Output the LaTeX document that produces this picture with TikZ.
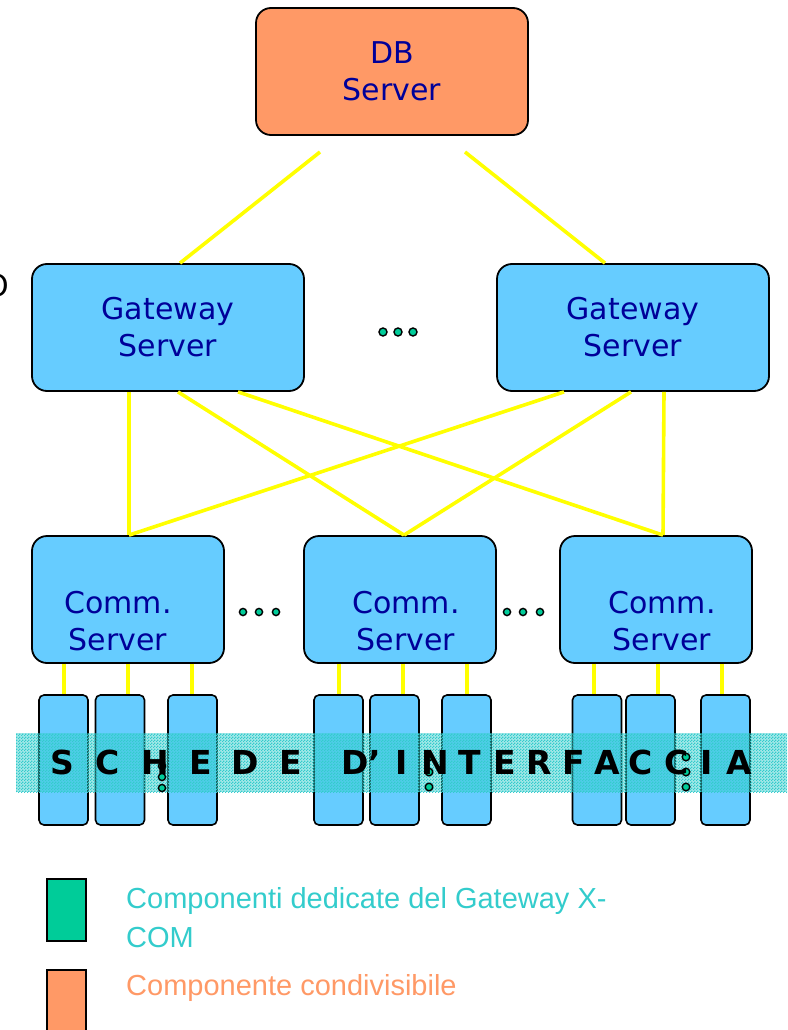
\documentclass[tikz,border=0pt]{standalone}
\usepackage{fontspec}
\setmainfont{DejaVu Sans}
\newfontfamily\legfont{Liberation Sans}
\usepackage{tikz}
\usetikzlibrary{shapes,arrows,patterns}
\usepackage{xcolor}

\definecolor{srvblue}{HTML}{66CCFF}
\definecolor{dborange}{HTML}{FF9966}
\definecolor{txtblue}{HTML}{000099}
\definecolor{dotgreen}{HTML}{00CC99}
\definecolor{bandteal}{HTML}{33CCCC}
\definecolor{wireyellow}{HTML}{FFFF00}

\pgfdeclarepatternformonly{checker}{\pgfqpoint{0pt}{0pt}}{\pgfqpoint{3pt}{3pt}}{\pgfqpoint{3pt}{3pt}}{%
	\pgfpathrectangle{\pgfqpoint{0pt}{0pt}}{\pgfqpoint{1.5pt}{1.5pt}}%
	\pgfpathrectangle{\pgfqpoint{1.5pt}{1.5pt}}{\pgfqpoint{1.5pt}{1.5pt}}%
	\pgfusepath{fill}}

\begin{document}
\begin{tikzpicture}[x = 1pt, y = -1pt,
	box/.style = {draw = black, line width = 1.8pt, rounded corners = 15pt, fill = srvblue, minimum width = 272, minimum height = 127},
	comm/.style = {box, minimum width = 192},
	card/.style = {draw = black, line width = 1.6pt, rounded corners = 5pt, fill = srvblue, minimum width = 49, minimum height = 130},
	txt/.style = {text = txtblue, align = center, font = \fontsize{30}{37}\selectfont},
	wire/.style = {line width = 3.6pt, color = wireyellow},
	dot/.style = {draw = black, line width = 1.4pt, fill = dotgreen},
	letter/.style = {font = \fontsize{33}{33}\selectfont\bfseries, text = black, inner sep = 0pt}]
	\useasboundingbox (0,0) rectangle (787,1030);

	% stray glyph cut by the left edge
	\node[font = \fontsize{30}{30}\selectfont, text = black] (cut) at (-3,286) {O};

	% servers
	\node[box, fill = dborange] (db) at (392,71.5) {};
	\node[txt] (dbtxt) at (db.center) {DB\\Server};
	\node[box] (gw1) at (168,327.5) {};
	\node[txt] (gw1txt) at (gw1.center) {Gateway\\Server};
	\node[box] (gw2) at (633,327.5) {};
	\node[txt] (gw2txt) at (gw2.center) {Gateway\\Server};
	\node[comm] (c1) at (128,599.5) {};
	\node[txt] (c1txt) at ([xshift = -10pt, yshift = -22pt]c1.center) {Comm.\\Server};
	\node[comm] (c2) at (400,599.5) {};
	\node[txt] (c2txt) at ([xshift = 6pt, yshift = -22pt]c2.center) {Comm.\\Server};
	\node[comm] (c3) at (656,599.5) {};
	\node[txt] (c3txt) at ([xshift = 6pt, yshift = -22pt]c3.center) {Comm.\\Server};

	% links
	\coordinate (dbl) at (320,152);
	\coordinate (dbr) at (465,152);
	\draw[wire] (dbl) -- ([xshift = 12pt]gw1.north);
	\draw[wire] (dbr) -- ([xshift = -28pt]gw2.north);
	\draw[wire] ([xshift = -39pt]gw1.south) -- ([xshift = 1pt]c1.north);
	\draw[wire] ([xshift = 10pt]gw1.south) -- ([xshift = 4pt]c2.north);
	\draw[wire] ([xshift = 70pt]gw1.south) -- ([xshift = 7pt]c3.north);
	\draw[wire] ([xshift = -69pt]gw2.south) -- ([xshift = 1pt]c1.north);
	\draw[wire] ([xshift = -2pt]gw2.south) -- ([xshift = 4pt]c2.north);
	\draw[wire] ([xshift = 31pt]gw2.south) -- ([xshift = 7pt]c3.north);

	% interface cards
	\foreach \k/\x in {1/63.5, 2/120, 3/192.5, 4/338.5, 5/394.5, 6/466.5, 7/597, 8/650.5, 9/725.5}
		\node[card] (k\k) at (\x,760) {};
	\foreach \k/\c/\x in {1/1/64, 2/1/128, 3/1/192, 4/2/339, 5/2/403, 6/2/467, 7/3/594, 8/3/658, 9/3/722}
		\draw[wire] (c\c.south -| \x,0) -- (k\k.north -| \x,0);

	% band
	\fill[bandteal, opacity = 0.45] (16,733) rectangle (787,792);
	\fill[pattern = checker, pattern color = bandteal] (16,733) rectangle (787,792);

	% dots
	\foreach \x in {383, 398, 413}
		\draw[dot] (\x,332) circle (4);
	\foreach \x in {243, 259, 276, 507, 523, 540}
		\draw[dot] (\x,612) circle (3.6);
	\foreach \y in {766, 777, 788}
		\draw[dot] (162,\y) circle (3.6);
	\foreach \x in {429, 686}
		\foreach \y in {757, 772, 787}
			\draw[dot] (\x,\y) circle (3.8);

	% letters
	\foreach \x/\l in {62/S, 108/C, 155/H, 201/E, 245/D, 291/E, 361/D’, 402/I, 435/N, 470/T, 505/E, 539/R, 574/F, 607/A, 641/C, 677/C, 707/I, 739/A}
		\node[letter] at (\x,762) {\l};

	% legend
	\draw[fill = dotgreen, line width = 2pt] (47,879) rectangle (86,941);
	\draw[fill = dborange, line width = 2pt] (47,970) rectangle (86,1036);
	\node[anchor = west, align = left, text = bandteal, inner sep = 0pt, font = \legfont\fontsize{29}{39}\selectfont] (leg1) at (126,917.5) {Componenti dedicate del Gateway X-\\COM};
	\node[anchor = west, text = dborange, inner sep = 0pt, font = \legfont\fontsize{29}{39}\selectfont] (leg2) at (126,988) {Componente condivisibile};
\end{tikzpicture}
\end{document}
